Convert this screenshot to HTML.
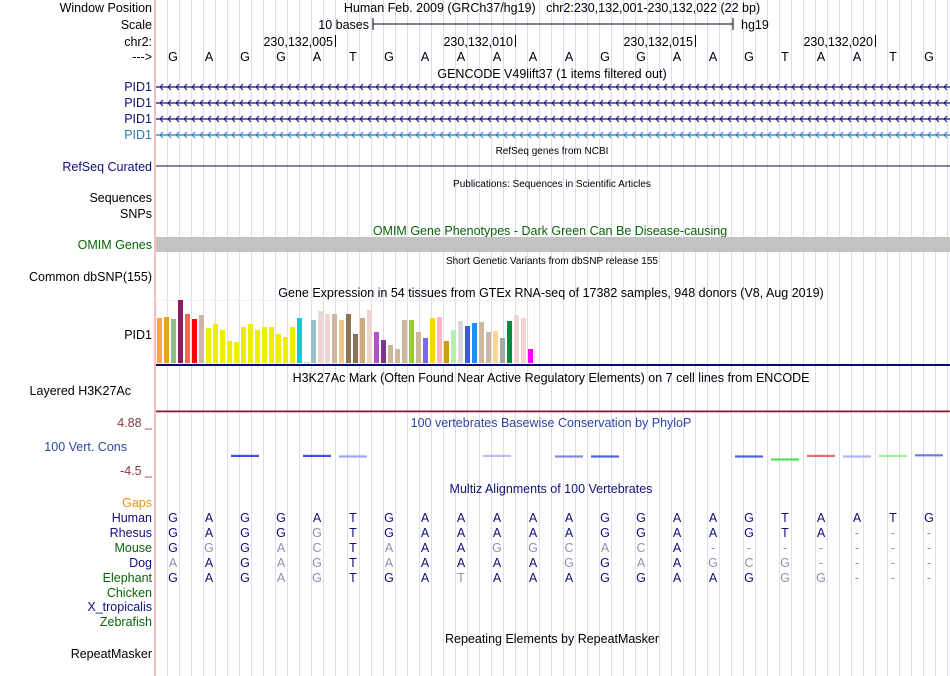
<!DOCTYPE html>
<html><head><meta charset="utf-8"><style>
body{margin:0;background:#fff;}
svg{display:block;font-family:"Liberation Sans",Arial,sans-serif;}
</style></head><body>
<svg id="g" width="950" height="676" viewBox="0 0 950 676">
<rect x="0" y="0" width="950" height="676" fill="#fff"/>
<g id="grid"></g>
<line x1="155" y1="0" x2="155" y2="676" stroke="#f4a8a8" stroke-width="1.5"/>
<g id="labels" font-size="12.5" text-anchor="end">
<text x="152" y="12" fill="#000">Window Position</text>
<text x="152" y="29" fill="#000">Scale</text>
<text x="152" y="46" fill="#000">chr2:</text>
<text x="152" y="61" fill="#000">---&gt;</text>
<text x="152" y="91" fill="#10107a">PID1</text>
<text x="152" y="107" fill="#10107a">PID1</text>
<text x="152" y="123" fill="#10107a">PID1</text>
<text x="152" y="139" fill="#2a7ab5">PID1</text>
<text x="152" y="171" fill="#10107a">RefSeq Curated</text>
<text x="152" y="202" fill="#000">Sequences</text>
<text x="152" y="218" fill="#000">SNPs</text>
<text x="152" y="249" fill="#0a640a">OMIM Genes</text>
<text x="152" y="281" fill="#000">Common dbSNP(155)</text>
<text x="152" y="339" fill="#000">PID1</text>
<text x="131" y="395" fill="#000">Layered H3K27Ac</text>
<text x="152" y="427" fill="#7f3f3f">4.88 _</text>
<text x="127" y="451" fill="#2b47a6">100 Vert. Cons</text>
<text x="152" y="475" fill="#7f3f3f">-4.5 _</text>
<text x="152" y="507" fill="#f0900a">Gaps</text>
<text x="152" y="522" fill="#10107a">Human</text>
<text x="152" y="537" fill="#10107a">Rhesus</text>
<text x="152" y="552" fill="#0a640a">Mouse</text>
<text x="152" y="567" fill="#10107a">Dog</text>
<text x="152" y="582" fill="#0a640a">Elephant</text>
<text x="152" y="597" fill="#0a640a">Chicken</text>
<text x="152" y="611" fill="#10107a">X_tropicalis</text>
<text x="152" y="626" fill="#0a640a">Zebrafish</text>
<text x="152" y="658" fill="#000">RepeatMasker</text>
</g>
<g font-size="12.5" text-anchor="middle">
<text x="552" y="12" style="white-space:pre">Human Feb. 2009 (GRCh37/hg19)   chr2:230,132,001-230,132,022 (22 bp)</text>
<text x="552" y="78">GENCODE V49lift37 (1 items filtered out)</text>
<text x="550" y="235" fill="#0a640a">OMIM Gene Phenotypes - Dark Green Can Be Disease-causing</text>
<text x="551" y="297">Gene Expression in 54 tissues from GTEx RNA-seq of 17382 samples, 948 donors (V8, Aug 2019)</text>
<text x="551" y="382">H3K27Ac Mark (Often Found Near Active Regulatory Elements) on 7 cell lines from ENCODE</text>
<text x="551" y="427" fill="#2b47a6">100 vertebrates Basewise Conservation by PhyloP</text>
<text x="551" y="493" fill="#10107a">Multiz Alignments of 100 Vertebrates</text>
<text x="552" y="643">Repeating Elements by RepeatMasker</text>
</g>
<g font-size="10" text-anchor="middle">
<text x="552" y="154">RefSeq genes from NCBI</text>
<text x="552" y="187">Publications: Sequences in Scientific Articles</text>
<text x="552" y="264">Short Genetic Variants from dbSNP release 155</text>
</g>
<g id="scale" font-size="12.5">
<text x="369" y="29" text-anchor="end">10 bases</text>
<line x1="373" y1="24" x2="733" y2="24" stroke="#000"/>
<line x1="373" y1="18" x2="373" y2="30" stroke="#000"/>
<line x1="733" y1="18" x2="733" y2="30" stroke="#000"/>
<text x="741" y="29">hg19</text>
</g>
<g id="ticks" font-size="12.5" text-anchor="end"></g>
<g id="bases" font-size="12.5" text-anchor="middle"></g>
<g id="genes"></g>
<line x1="156" y1="166" x2="950" y2="166" stroke="#0a0a70"/>
<rect x="156" y="237" width="794" height="15" fill="#c3c3c3"/>
<rect x="156.5" y="300.5" width="378" height="63" fill="none" stroke="#f0f0f6"/>
<g id="gtex"></g>
<rect x="156" y="364" width="794" height="2" fill="#0a0a6e"/>
<rect x="156" y="410.5" width="794" height="1.5" fill="#7a1f3d"/>
<line x1="156" y1="412.5" x2="950" y2="412.5" stroke="#e8b4c8"/>
<g id="cons"></g>
<g id="align" font-size="12.5" text-anchor="middle"></g>
</svg>
<script>
const NS="http://www.w3.org/2000/svg";
function mk(tag,attrs,parent){const e=document.createElementNS(NS,tag);for(const k in attrs)e.setAttribute(k,attrs[k]);parent.appendChild(e);return e;}
const X0=155, BW=36;
const bx=i=>X0+BW*i+BW/2;

const grid=document.getElementById('grid');
for(let x=X0+12;x<950;x+=12){
  const l=mk('line',{x1:x+0.5,y1:0,x2:x+0.5,y2:676,stroke:'#dcdcf2','stroke-width':1},grid);
  
  
}

const refBases=["G","A","G","G","A","T","G","A","A","A","A","A","G","G","A","A","G","T","A","A","T","G"];
const tickLabels=["230,132,005","230,132,010","230,132,015","230,132,020"];
const tickBaseIdx=[4,9,14,19];
const species=["Human","Rhesus","Mouse","Dog","Elephant"];
const speciesSeq=[
 "GAGGATGAAAAAGGAAGTAATG",
 "GAGGGTGAAAAAGGAAGTA---",
 "GGGACTAAAGGCACA-------",
 "AAGAGTAAAAAGGAAGCG----",
 "GAGAGTGATAAAGGAAGGG---"
];
const gtexValues=[45,46,44,63,49,44,48,35,39,33,22,21,36,39,33,36,36,29,26,36,45,0.6,43,52,49,49,43,49,29,45,53,31,23,18,14,43,43,31,25,45,46,22,33,42,37,40,41,31,32,25,42,48,45,14];
const gtexColors=["#FFA54F","#EEA111","#8FBC8F","#8B1C62","#EE6A50","#FF0000","#CDB79E","#EEEE00","#EEEE00","#EEEE00","#EEEE00","#EEEE00","#EEEE00","#EEEE00","#EEEE00","#EEEE00","#EEEE00","#EEEE00","#EEEE00","#EEEE00","#00CED1","#9AC0CD","#9AC0CD","#EED5D2","#EED5D2","#CDB79E","#EEC591","#8B7355","#8B7355","#CDAA7D","#EED5D2","#B452CD","#7A378B","#CDB79E","#CDB79E","#CDB79E","#9ACD32","#CDB79E","#7B68EE","#FFD700","#FFB6C1","#CD9B1D","#B4EEB4","#D9D9D9","#3A5FCD","#1E90FF","#CDB79E","#CDB79E","#FFD39B","#A6A6A6","#008B45","#EED5D2","#EED5D2","#FF00FF"];
const consBaseIdx=[2,4,5,9,11,12,16,17,18,19,20,21];
const consValues=[0.1,0.1,0.05,0.1,0.05,0.05,0.05,-0.2,0.1,0.05,0.1,0.15];
const consColors=["#2233dd","#2233dd","#8899ee","#aab0ee","#6677dd","#3344dd","#3344dd","#33dd33","#dd5555","#99aaee","#88ee88","#5566dd"];

const tk=document.getElementById('ticks');
tickLabels.forEach((t,i)=>{
  const x=X0+BW*(tickBaseIdx[i]+1);
  const tx=mk('text',{x:x-2,y:46},tk);tx.textContent=t;
  
  
  const l=mk('line',{x1:x+0.5,y1:35,x2:x+0.5,y2:47,stroke:'#000'},tk);
  
  
});
const bs=document.getElementById('bases');
refBases.forEach((b,i)=>{
  const t=mk('text',{x:bx(i),y:61},bs);t.textContent=b;
  
  
});
const gn=document.getElementById('genes');
const geneY=[87,103,119,135], geneCol=["#10107a","#10107a","#10107a","#2a7ab5"];
geneY.forEach((y,k)=>{
  const g=mk('g',{},gn);
  
  
  mk('line',{x1:156,y1:y,x2:950,y2:y,stroke:geneCol[k],'stroke-width':1.2},g);
  let d='';
  for(let x=160;x<950;x+=8){d+=`M${x+3},${y-3}L${x},${y}L${x+3},${y+3}`;}
  mk('path',{d:d,fill:'none',stroke:geneCol[k],'stroke-width':1},g);
});
const gt=document.getElementById('gtex');
const GB=363, gScale=v=>v; const gx=i=>157+7*i;
gtexValues.forEach((v,i)=>{
  const h=gScale(v);
  const r=mk('rect',{x:gx(i),y:GB-h,width:5,height:h,fill:gtexColors[i]},gt);
  
  
});
const cs=document.getElementById('cons');
const cy=v=>457-v*12;
consBaseIdx.forEach((b,i)=>{
  const y=cy(consValues[i]);
  const e=mk('rect',{x:X0+BW*b+4,y:y-1,width:28,height:2.2,fill:consColors[i],opacity:0.85},cs);
  
  
});
const al=document.getElementById('align');
const rowY=[522,537,552,567,582];
species.forEach((sp,r)=>{
  const seq=speciesSeq[r];
  for(let i=0;i<seq.length;i++){
    const c=seq[i];
    const match=c===refBases[i];
    const t=mk('text',{x:bx(i),y:rowY[r],fill:(c!=='-'&&match)?'#10107a':'#9090b0'},al);
    t.textContent=c;
    
    
  }
});
</script>
</body></html>
